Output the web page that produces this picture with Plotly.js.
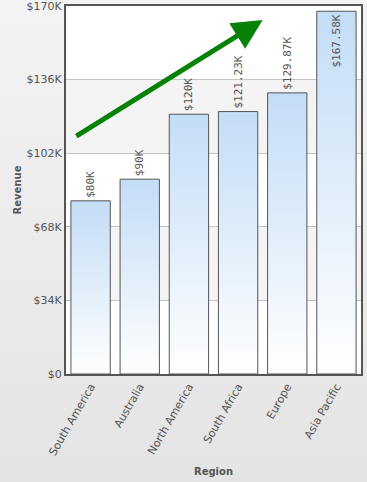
<!DOCTYPE html>
<html>
<head>
<meta charset="utf-8">
<script src="https://cdn.plot.ly/plotly-3.0.1.min.js"></script>
<style>
  html, body { margin: 0; padding: 0; }
  body { width: 367px; height: 482px; background: linear-gradient(#f3f3f3, #e4e4e4); }
  #chart { width: 367px; height: 482px; }
</style>
</head>
<body>
<div id="chart"></div>
<script>
const categories = ['South America', 'Australia', 'North America', 'South Africa', 'Europe', 'Asia Pacific'];
const revenue = [80000, 90000, 120000, 121230, 129870, 167580];
const valueLabels = ['$80K', '$90K', '$120K', '$121.23K', '$129.87K', '$167.58K'];
const yTickValues = [0, 34000, 68000, 102000, 136000, 170000];
const yTickLabels = ['$0', '$34K', '$68K', '$102K', '$136K', '$170K'];

const barWidth = 0.8;
const idx = categories.map((c, i) => i);
const xRange = [-0.5, categories.length - 0.5];
const yRange = [0, 170000];
const textColor = '#555555';
const font = 'DejaVu Sans, Verdana, sans-serif';
const monoFont = 'DejaVu Sans Mono, monospace';

// gradient-filled bar bodies (one per category)
const fillTraces = revenue.map((v, i) => ({
  type: 'scatter',
  mode: 'lines',
  x: [i - barWidth / 2, i - barWidth / 2, i + barWidth / 2, i + barWidth / 2, i - barWidth / 2],
  y: [0, v, v, 0, 0],
  fill: 'toself',
  fillgradient: { type: 'vertical', colorscale: [[0, '#ffffff'], [1, '#c3ddf6']] },
  line: { width: 0, color: 'rgba(0,0,0,0)' },
  hoverinfo: 'skip',
  showlegend: false,
  xaxis: 'x', yaxis: 'y'
}));

// bar outlines and value labels
const barTrace = {
  type: 'bar',
  x: idx,
  y: revenue,
  width: barWidth,
  text: valueLabels,
  textposition: revenue.map((v, i) => i === revenue.length - 1 ? 'inside' : 'outside'),
  insidetextanchor: 'end',
  textangle: -90,
  textfont: { family: monoFont, size: 11, color: textColor },
  insidetextfont: { family: monoFont, size: 11, color: textColor },
  outsidetextfont: { family: monoFont, size: 11, color: textColor },
  cliponaxis: false,
  constraintext: 'none',
  marker: { color: 'rgba(0,0,0,0)', line: { color: '#555555', width: 1 } },
  showlegend: false,
  xaxis: 'x2', yaxis: 'y2'
};

// alternating background bands
const shapes = [];
for (let k = 0; k < yTickValues.length - 1; k++) {
  shapes.push({
    type: 'rect', layer: 'below', xref: 'paper', yref: 'y',
    x0: 0, x1: 1, y0: yTickValues[k], y1: yTickValues[k + 1],
    fillcolor: k % 2 === 1 ? '#f4f4f4' : '#ffffff', line: { width: 0 }
  });
}

const layout = {
  width: 367, height: 482,
  margin: { l: 66, r: 6, t: 6, b: 108 },
  paper_bgcolor: 'rgba(0,0,0,0)',
  plot_bgcolor: '#ffffff',
  font: { family: font, size: 11, color: textColor },
  shapes: shapes,
  xaxis: {
    range: xRange,
    tickvals: idx,
    ticktext: categories,
    tickangle: -60,
    ticks: '',
    showgrid: false,
    zeroline: false,
    ticklabeloverflow: 'allow',
    showline: true, mirror: true, linecolor: '#555555', linewidth: 2,
    tickfont: { family: font, size: 11, color: textColor },
    title: { text: '<b>Region</b>', font: { family: font, size: 10, color: textColor }, standoff: 11 }
  },
  yaxis: {
    range: yRange,
    tickvals: yTickValues,
    ticktext: yTickLabels,
    ticks: '',
    showgrid: true, gridcolor: '#c4c4c4', gridwidth: 1,
    zeroline: false,
    ticklabeloverflow: 'allow',
    showline: true, mirror: true, linecolor: '#555555', linewidth: 2,
    tickfont: { family: font, size: 11, color: textColor },
    title: { text: '<b>Revenue</b>', font: { family: font, size: 10, color: textColor }, standoff: 3 }
  },
  xaxis2: { overlaying: 'x', range: xRange, visible: false, showgrid: false, zeroline: false },
  yaxis2: { overlaying: 'y', range: yRange, visible: false, showgrid: false, zeroline: false },
  annotations: [{
    xref: 'x', yref: 'y', axref: 'x', ayref: 'y',
    x: 3.5, y: 163500,
    ax: -0.32, ay: 109500,
    text: '',
    showarrow: true,
    arrowhead: 2, arrowsize: 1.2, arrowwidth: 5,
    arrowcolor: '#078207'
  }]
};

Plotly.newPlot('chart', fillTraces.concat([barTrace]), layout, { displayModeBar: false, staticPlot: true });
</script>
</body>
</html>
